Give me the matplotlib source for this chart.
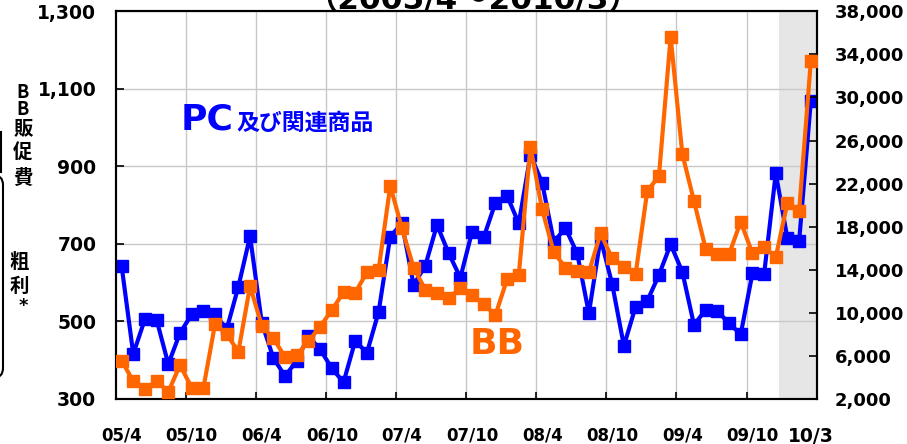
import matplotlib
matplotlib.use('Agg')
import matplotlib.pyplot as plt
from matplotlib.patches import FancyBboxPatch
from matplotlib.lines import Line2D

# 月次データ 2005/4 ~ 2010/3
pc_values = [644, 416, 506, 504, 390, 470, 518, 527, 518, 480,
             590, 720, 497, 405, 359, 399, 462, 428, 379, 343,
             450, 419, 524, 719, 753, 594, 644, 749, 676, 613,
             731, 717, 806, 824, 753, 929, 858, 706, 740, 676,
             521, 714, 596, 437, 538, 553, 620, 699, 628, 491,
             530, 527, 495, 467, 624, 622, 882, 714, 707, 1069]
bb_values = [5550, 3670, 2900, 3700, 2650, 5150, 3050, 2990, 8950, 8000,
             6400, 12500, 8800, 7630, 5870, 6080, 7380, 8720, 10260, 11900,
             11870, 13760, 13980, 21800, 17850, 14190, 12150, 11800, 11380, 12280,
             11660, 10790, 9800, 13110, 13510, 25430, 19610, 15620, 14190, 13880,
             13760, 17380, 15060, 14280, 13580, 21310, 22700, 35640, 24750, 20380,
             15930, 15440, 15440, 18460, 15530, 16140, 15160, 20230, 19480, 33380]
tick_labels = ['05/4', '05/10', '06/4', '06/10', '07/4', '07/10',
               '08/4', '08/10', '09/4', '09/10', '10/3']
left_ticks = [300, 500, 700, 900, 1100, 1300]
right_ticks = [2000, 6000, 10000, 14000, 18000, 22000, 26000, 30000, 34000, 38000]

plt.rcParams['font.family'] = ['DejaVu Sans', 'Noto Sans CJK JP']
plt.rcParams['font.weight'] = 'bold'

BLUE = '#0000ff'
ORANGE = '#ff6600'

fig = plt.figure(figsize=(9.07, 4.44), dpi=100)
ax = fig.add_axes([0.1276, 0.1014, 0.7728, 0.8731])
ax2 = ax.twinx()

n = len(pc_values)
x = list(range(n))

ax.axvspan(56.3, n - 0.5, color='#e6e6e6', zorder=0, lw=0)
ax.plot(x, pc_values, color=BLUE, lw=3, marker='s', ms=8, zorder=3)
ax2.plot(x, bb_values, color=ORANGE, lw=3, marker='s', ms=8, zorder=3)

ax.set_xlim(-0.5, n - 0.5)
ax.set_ylim(300, 1300)
ax2.set_ylim(2000, 38000)

# 区切り線（半年ごと）
bounds = [i - 0.5 for i in range(6, n, 6)]
ax.set_xticks(bounds)
ax.set_xticklabels([])
label_pos = list(range(0, n, 6)) + [n - 1]
ax.set_xticks(label_pos, minor=True)
ax.set_xticklabels(tick_labels, minor=True)
ax.tick_params(axis='x', which='minor', length=0, pad=20, labelsize=12)
ax.tick_params(axis='x', which='major', direction='in', length=5, width=1.2)
last = ax.get_xticklabels(minor=True)[-1]
last.set_fontsize(13.5)

ax.set_yticks(left_ticks)
ax.set_yticklabels([f'{v:,}' for v in left_ticks])
ax.tick_params(axis='y', direction='in', length=6, width=1.2, pad=14, labelsize=13.5)
ax2.set_yticks(right_ticks)
ax2.set_yticklabels([f'{v:,}' for v in right_ticks])
ax2.tick_params(axis='y', direction='in', length=6, width=1.2, pad=13, labelsize=13)

ax.grid(True, which='major', color='#c8c8c8', lw=1)
ax.set_axisbelow(True)
for a in (ax, ax2):
    for s in a.spines.values():
        s.set_linewidth(1.5)

# ラベル
ax.text(0.092, 0.695, 'PC', transform=ax.transAxes, color=BLUE, fontsize=26, va='baseline')
ax.text(0.172, 0.695, '及び関連商品', transform=ax.transAxes, color=BLUE, fontsize=16.5,
        va='baseline')
ax.text(0.505, 0.115, 'BB', transform=ax.transAxes, color=ORANGE, fontsize=26, va='baseline')

fig.text(0.522, 1 - 9.5 / 444, '（2005/4～2010/3）', ha='center', va='baseline', fontsize=22.5)

# 左側の縦書きラベル
fig.text(23 / 907, 1 - 101 / 444, 'B\nB', ha='center', va='center', fontsize=13,
         family='Noto Sans CJK JP', linespacing=0.9)
for ch, yp in zip('販促費', [129, 152.5, 178.5]):
    fig.text(23 / 907, 1 - yp / 444, ch, ha='center', va='center', fontsize=14)
for ch, yp in zip('粗利', [263, 286]):
    fig.text(19 / 907, 1 - yp / 444, ch, ha='center', va='center', fontsize=14)
fig.text(23 / 907, 1 - 306 / 444, '*', ha='center', va='center', fontsize=13)

box = FancyBboxPatch((-0.2, 0.66), 0.23, 2.03, boxstyle='round,pad=0,rounding_size=0.1',
                     transform=fig.dpi_scale_trans, fill=False, lw=1.5, ec='black')
fig.patches.append(box)
fig.lines.append(Line2D([0.01, 0.01], [3.12, 2.72], transform=fig.dpi_scale_trans,
                        color='black', lw=1.5))

fig.savefig('out.png', dpi=100)
